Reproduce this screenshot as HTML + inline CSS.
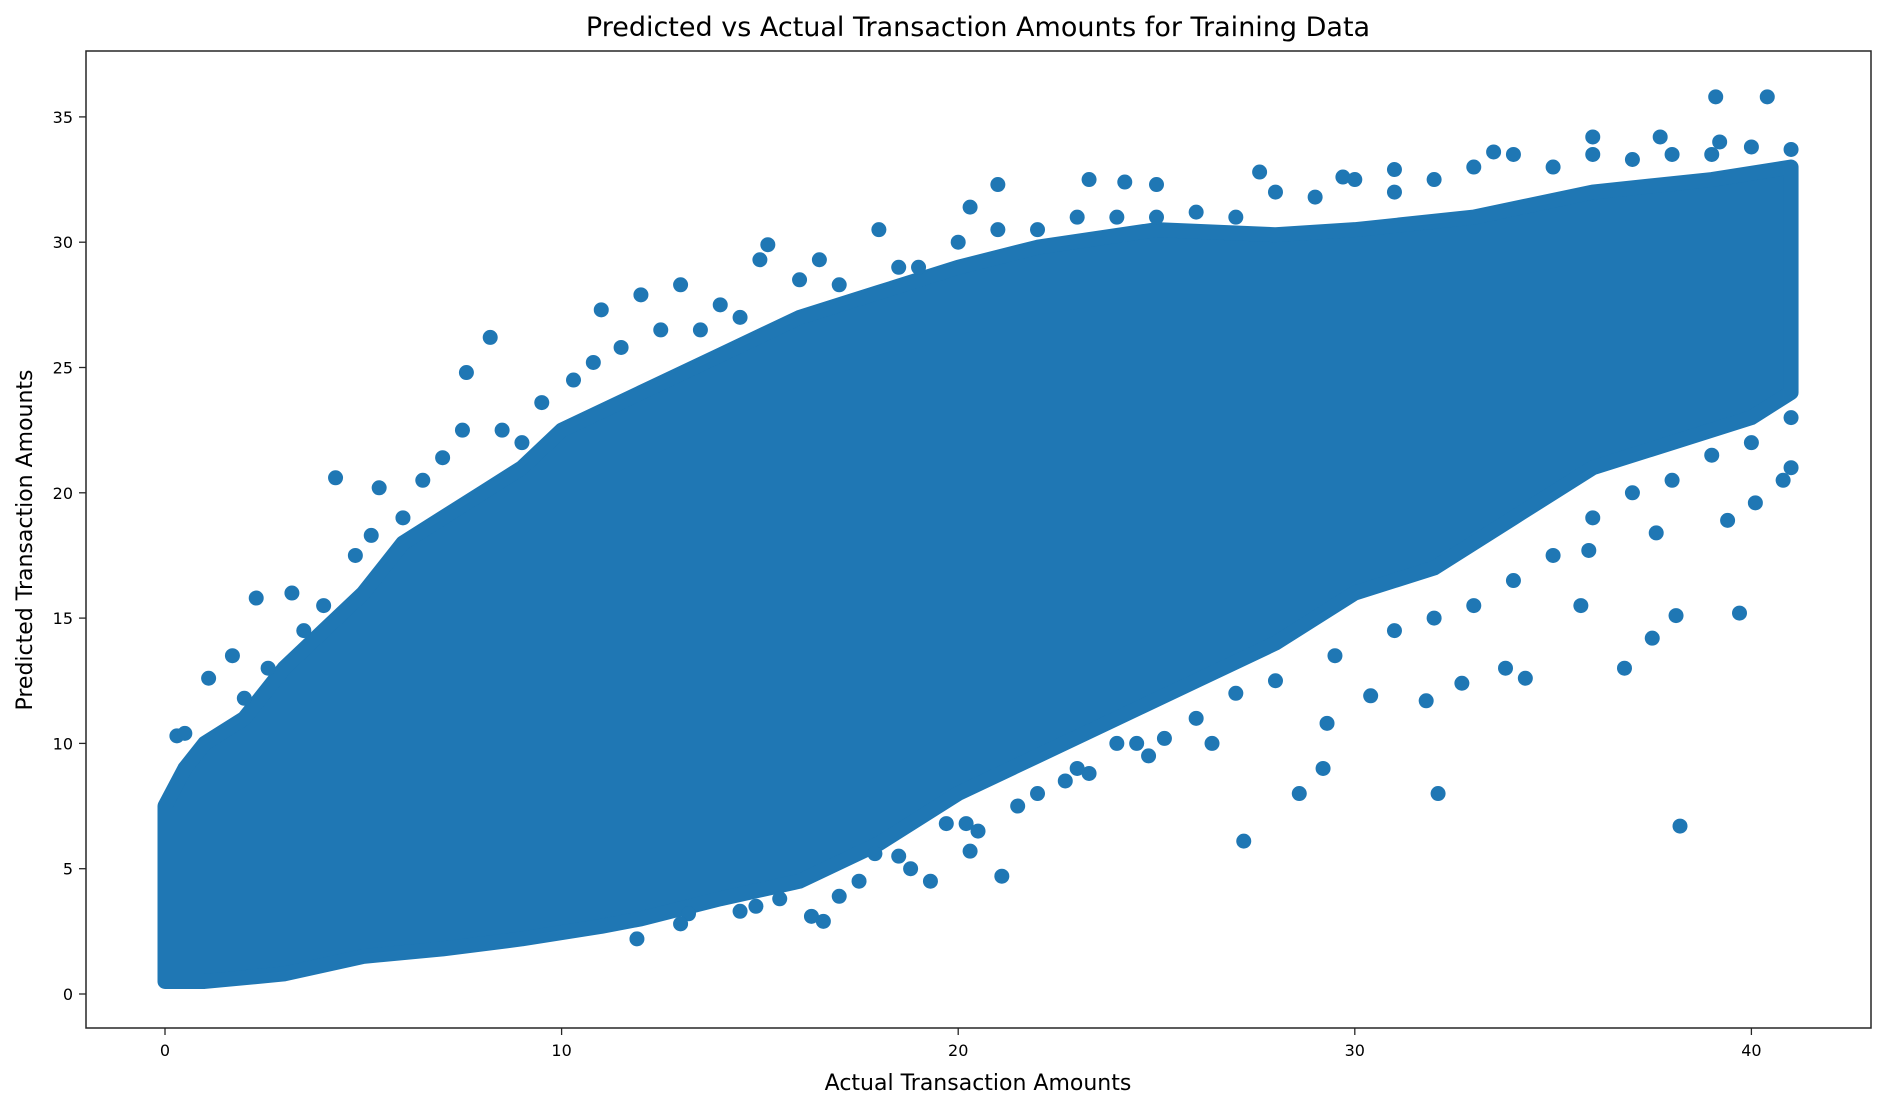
<!DOCTYPE html>
<html><head><meta charset="utf-8"><style>
body{margin:0;background:#fff;}
svg{display:block;font-family:"DejaVu Sans","Liberation Sans",sans-serif;}
</style></head><body>
<svg id="chart" width="1886" height="1108" viewBox="0 0 1886 1108">
<rect width="1886" height="1108" fill="#fff"/>
<text x="978" y="36" font-size="27" text-anchor="middle" fill="#000">Predicted vs Actual Transaction Amounts for Training Data</text>
<g id="band"></g>
<g id="pts"></g>
<rect x="86" y="51" width="1785" height="977" fill="none" stroke="#262626" stroke-width="1.5"/>
<g id="xt"></g>
<g id="yt"></g>
<text x="978" y="1090" font-size="22" text-anchor="middle">Actual Transaction Amounts</text>
<text transform="translate(32,540) rotate(-90)" font-size="22" text-anchor="middle">Predicted Transaction Amounts</text>
</svg>
<script>
const xTicks=[0,10,20,30,40];
const yTicks=[0,5,10,15,20,25,30,35];
const bandX=[0,0.5,1,2,3,4,5,6,7,8,9,10,12,14,16,18,20,22,25,28,30,33,36,39,41];
const bandUpper=[7.5,9,10,11,13,14.5,16,18,19,20,21,22.5,24,25.5,27,28,29,29.8,30.5,30.3,30.5,31,32,32.5,33];
const bandLowX=[41,40,38,36,34,32,30,28,26,24,22,20,18,16,14,12,11,9,7,5,3,1,0];
const bandLower=[24,23,22,21,19,17,16,14,12.5,11,9.5,8,6,4.5,3.8,3,2.7,2.2,1.8,1.5,0.8,0.5,0.5];
const ptX=[4.3,5.4,8.2,7.6,2.3,3.2,1.7,0.3,0.5,1.1,11,12,13,15.2,16.5,18,20.3,21,23.3,24.2,25,27.6,29.7,31,33.5,36,37.7,39.1,40.4,39.2,11.9,13.2,14.9,16.3,16.6,17,19.3,21.1,20.3,18.8,17.9,27.2,28.6,29.2,32.1,38.2,29.3,30.4,31.8,32.7,34.3,33.8,36.8,37.5,38.1,39.7,35.7,37.6,39.4,40.1,40.8,41,26.4,22.7,24,25.2,19.7,20.2,23.3,24.8,35.9,
2,2.6,3.5,4,4.8,5.2,6,6.5,7,7.5,8.5,9,9.5,10.3,10.8,11.5,12.5,13.5,14,14.5,15,16,17,18.5,19,20,21,22,23,24,25,26,27,28,29,30,31,32,33,34,35,36,37,38,39,40,41,
13,14.5,15.5,17.5,18.5,20.5,21.5,22,23,24.5,26,27,28,29.5,31,32,33,34,35,36,37,38,39,40,41];
const ptY=[20.6,20.2,26.2,24.8,15.8,16,13.5,10.3,10.4,12.6,27.3,27.9,28.3,29.9,29.3,30.5,31.4,32.3,32.5,32.4,32.3,32.8,32.6,32.9,33.6,34.2,34.2,35.8,35.8,34,2.2,3.2,3.5,3.1,2.9,3.9,4.5,4.7,5.7,5,5.6,6.1,8,9,8,6.7,10.8,11.9,11.7,12.4,12.6,13,13,14.2,15.1,15.2,15.5,18.4,18.9,19.6,20.5,21,10,8.5,10,10.2,6.8,6.8,8.8,9.5,17.7,
11.8,13,14.5,15.5,17.5,18.3,19,20.5,21.4,22.5,22.5,22,23.6,24.5,25.2,25.8,26.5,26.5,27.5,27,29.3,28.5,28.3,29,29,30,30.5,30.5,31,31,31,31.2,31,32,31.8,32.5,32,32.5,33,33.5,33,33.5,33.3,33.5,33.5,33.8,33.7,
2.8,3.3,3.8,4.5,5.5,6.5,7.5,8,9,10,11,12,12.5,13.5,14.5,15,15.5,16.5,17.5,19,20,20.5,21.5,22,23];
const NS='http://www.w3.org/2000/svg';
const sx=v=>165+v*39.66;
const sy=v=>994-v*25.06;
const C='#1f77b4';
const band=document.getElementById('band');
let d='';
bandX.forEach((x,i)=>{d+=(i?'L':'M')+sx(x)+','+sy(bandUpper[i]);});
bandLowX.forEach((x,i)=>{d+='L'+sx(x)+','+sy(bandLower[i]);});
const p=document.createElementNS(NS,'path');
p.setAttribute('d',d+'Z');p.setAttribute('fill',C);p.setAttribute('stroke',C);
p.setAttribute('stroke-width','15');p.setAttribute('stroke-linejoin','round');


band.appendChild(p);
const pts=document.getElementById('pts');
ptX.forEach((x,i)=>{const c=document.createElementNS(NS,'circle');
c.setAttribute('cx',sx(x));c.setAttribute('cy',sy(ptY[i]));c.setAttribute('r',7.5);c.setAttribute('fill',C);


pts.appendChild(c);});
const xt=document.getElementById('xt');
xTicks.forEach(v=>{const g=document.createElementNS(NS,'g');


g.innerHTML=`<line x1="${sx(v)}" x2="${sx(v)}" y1="1028" y2="1035" stroke="#262626" stroke-width="1.3"/><text x="${sx(v)}" y="1056" font-size="16" text-anchor="middle">${v}</text>`;
xt.appendChild(g);});
const yt=document.getElementById('yt');
yTicks.forEach(v=>{const g=document.createElementNS(NS,'g');


g.innerHTML=`<line x1="79" x2="86" y1="${sy(v)}" y2="${sy(v)}" stroke="#262626" stroke-width="1.3"/><text x="73" y="${sy(v)+6}" font-size="16" text-anchor="end">${v}</text>`;
yt.appendChild(g);});
</script>
</body></html>
